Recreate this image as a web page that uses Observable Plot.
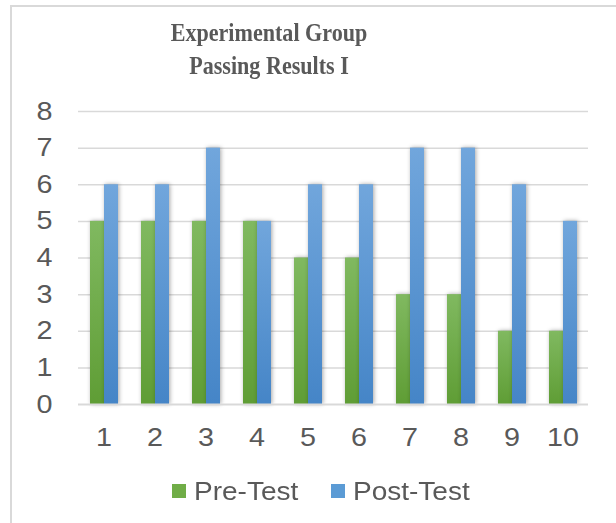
<!DOCTYPE html>
<html>
<head>
<meta charset="utf-8">
<script src="https://cdn.jsdelivr.net/npm/d3@7"></script>
<script src="https://cdn.jsdelivr.net/npm/@observablehq/plot@0.6"></script>
<style>
  html, body { margin: 0; padding: 0; background: #fff; }
  #wrap { position: relative; width: 616px; height: 523px; overflow: hidden; background: #fff; }
  #frame { position: absolute; left: 10px; top: 5px; width: 606px; height: 518px; border-top: 2px solid #d9d9d9; border-left: 2px solid #d9d9d9; box-sizing: border-box; }
  #title { position: absolute; left: 0; top: 16px; width: 538px; text-align: center; font-family: "Liberation Serif", "Times New Roman", serif; font-weight: bold; font-size: 26px; line-height: 33px; color: #595959; transform: scaleX(0.85); transform-origin: center; }
  #chart { position: absolute; left: 0; top: 0; }
  .sw { position: absolute; width: 14px; height: 14px; top: 484px; }
  .lt { position: absolute; top: 476px; font-family: "Liberation Sans", Arial, sans-serif; font-size: 25px; line-height: 30px; color: #595959; transform: scaleX(1.12); transform-origin: left center; white-space: nowrap; }
</style>
</head>
<body>
<div id="wrap">
  <div id="frame"></div>
  <div id="chart"></div>
  <div id="title">Experimental Group<br>Passing Results I</div>
  <div class="sw" style="left:172px;background:#70ad47"></div>
  <div class="lt" style="left:194px">Pre-Test</div>
  <div class="sw" style="left:331px;background:#5b9bd5"></div>
  <div class="lt" style="left:353px">Post-Test</div>
</div>
<script>
const categories = ["1","2","3","4","5","6","7","8","9","10"];
const seriesNames = ["Pre-Test","Post-Test"];
const preTest  = [5,5,5,5,4,4,3,3,2,2];
const postTest = [6,6,7,5,6,6,7,7,6,5];
const yTicks = [0,1,2,3,4,5,6,7,8];

const preData  = categories.map((c,i) => ({cat: c, series: seriesNames[0], value: preTest[i]}));
const postData = categories.map((c,i) => ({cat: c, series: seriesNames[1], value: postTest[i]}));

const chart = Plot.plot({
  width: 616,
  height: 460,
  marginLeft: 75,
  marginRight: 26,
  marginTop: 111,
  marginBottom: 56,
  style: {fontFamily: "Liberation Sans, Arial, sans-serif", fontSize: "25px", color: "#595959", background: "transparent", overflow: "visible"},
  fx: {domain: categories, padding: 0, label: null, tickSize: 0, tickPadding: 24},
  x: {domain: seriesNames, paddingInner: 0, paddingOuter: 0.746, axis: null},
  y: {domain: [0, 8], ticks: yTicks, tickSize: 0, tickPadding: 26, label: null, tickFormat: d => String(d)},
  marks: [
    Plot.ruleY(yTicks.filter(d => d > 0), {stroke: "#d9d9d9", strokeWidth: 1.5}),
    Plot.barY(preData, {fx: "cat", x: "series", y: "value", fill: "url(#gGreen)", inset: 0}),
    Plot.barY(postData, {fx: "cat", x: "series", y: "value", fill: "url(#gBlue)", inset: 0}),
    Plot.ruleY([0], {stroke: "#d9d9d9", strokeWidth: 2.2})
  ]
});

const svg = d3.select(chart);
const defs = svg.insert("defs", ":first-child");
function grad(id, top, bottom) {
  const g = defs.append("linearGradient").attr("id", id).attr("x1", 0).attr("y1", 0).attr("x2", 0).attr("y2", 1);
  g.append("stop").attr("offset", "0%").attr("stop-color", top);
  g.append("stop").attr("offset", "100%").attr("stop-color", bottom);
}
grad("gGreen", "#80b960", "#5f9d35");
grad("gBlue", "#71a6dc", "#4585c7");

svg.selectAll('g[aria-label="bar"]').style("filter", "drop-shadow(1px 0px 2px rgba(0,0,0,0.35))");

// horizontally widen tick labels to match the reference's stretched lettering
svg.selectAll('g[aria-label$="axis"] text, g[aria-label*="tick label"] text').each(function() {
  const t = d3.select(this);
  const tr = t.attr("transform") || "";
  const x = +(t.attr("x") || 0);
  t.attr("transform", `${tr} translate(${x},0) scale(1.15,1) translate(${-x},0)`);
});

document.getElementById("chart").appendChild(chart);
</script>
</body>
</html>
